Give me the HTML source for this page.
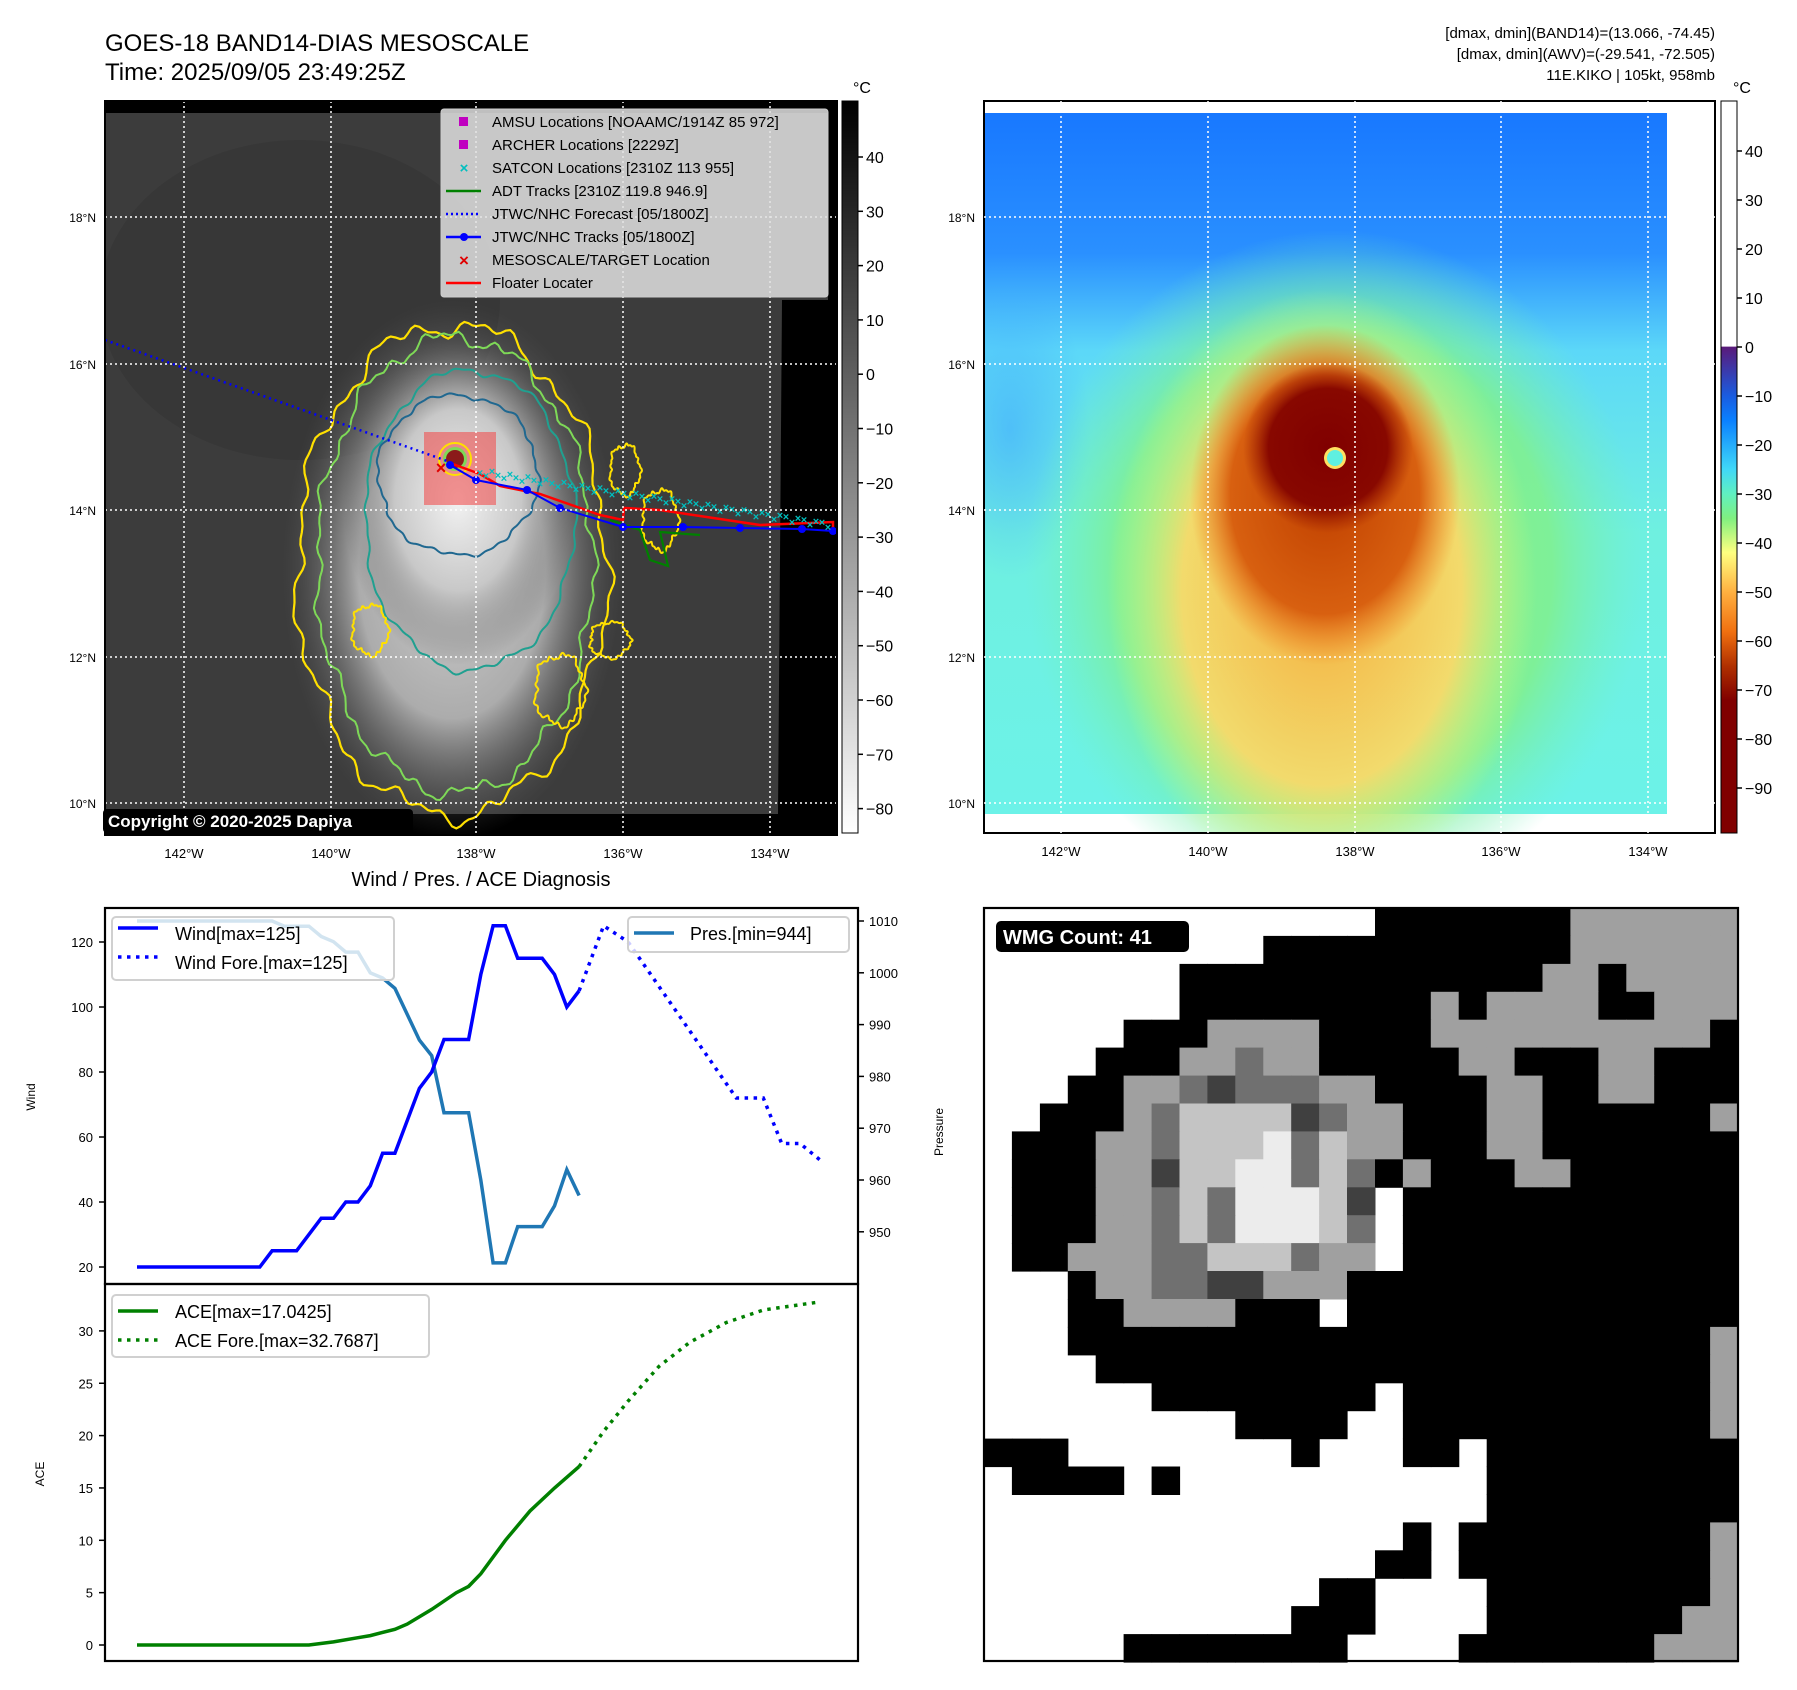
<!DOCTYPE html>
<html><head><meta charset="utf-8"><style>
html,body{margin:0;padding:0;background:#fff}
svg{display:block;font-family:"Liberation Sans",sans-serif}
</style></head><body>
<svg id="fig" width="1797" height="1690" viewBox="0 0 1797 1690" xmlns="http://www.w3.org/2000/svg">
<defs>
<linearGradient id="cb1" x1="0" y1="0" x2="0" y2="1"><stop offset="0" stop-color="#000"/><stop offset="1" stop-color="#fff"/></linearGradient>
<linearGradient id="cb2" x1="0" y1="0" x2="0" y2="1">
<stop offset="0" stop-color="#fff"/><stop offset="0.335" stop-color="#fff"/><stop offset="0.336" stop-color="#5a1a7a"/>
<stop offset="0.403" stop-color="#1a5ce0"/><stop offset="0.436" stop-color="#0a80ff"/><stop offset="0.503" stop-color="#40d8f8"/>
<stop offset="0.537" stop-color="#60f0c0"/><stop offset="0.57" stop-color="#80f080"/><stop offset="0.617" stop-color="#ffff80"/>
<stop offset="0.671" stop-color="#ffb040"/><stop offset="0.725" stop-color="#f07010"/><stop offset="0.772" stop-color="#b03000"/>
<stop offset="0.819" stop-color="#800000"/><stop offset="1" stop-color="#800000"/></linearGradient>
<radialGradient id="stormG"><stop offset="0" stop-color="#f2f2f2"/><stop offset="0.55" stop-color="#c8c8c8"/><stop offset="1" stop-color="#5a5a5a" stop-opacity="0"/></radialGradient>
<linearGradient id="bg2" x1="0" y1="0" x2="0" y2="1"><stop offset="0" stop-color="#1878ff"/><stop offset="0.2" stop-color="#2a90ff"/><stop offset="0.34" stop-color="#5cd8f8"/><stop offset="0.6" stop-color="#6ff0e0"/><stop offset="1" stop-color="#6cf2e8"/></linearGradient>
<radialGradient id="g2green"><stop offset="0" stop-color="#90f070"/><stop offset="0.7" stop-color="#80f090"/><stop offset="1" stop-color="#70f0c0" stop-opacity="0"/></radialGradient>
<radialGradient id="g2yel"><stop offset="0" stop-color="#ffa838"/><stop offset="0.65" stop-color="#ffd868"/><stop offset="1" stop-color="#d0ff80" stop-opacity="0"/></radialGradient>
<radialGradient id="g2or"><stop offset="0" stop-color="#c04000"/><stop offset="0.7" stop-color="#d86010"/><stop offset="1" stop-color="#f08020" stop-opacity="0"/></radialGradient>
<radialGradient id="g2red"><stop offset="0" stop-color="#800000"/><stop offset="0.7" stop-color="#880800"/><stop offset="1" stop-color="#a02000" stop-opacity="0"/></radialGradient>
<radialGradient id="g2blue"><stop offset="0" stop-color="#40a8ff"/><stop offset="1" stop-color="#40a8ff" stop-opacity="0"/></radialGradient>
<clipPath id="clip1"><rect x="105" y="101" width="732" height="734"/></clipPath>
<clipPath id="clip2"><rect x="984" y="101" width="731" height="732"/></clipPath>
</defs>

<text x="105" y="51" font-size="24">GOES-18 BAND14-DIAS MESOSCALE</text>
<text x="105" y="80" font-size="24">Time: 2025/09/05 23:49:25Z</text>
<g font-size="15" text-anchor="end">
<text x="1715" y="38">[dmax, dmin](BAND14)=(13.066, -74.45)</text>
<text x="1715" y="59">[dmax, dmin](AWV)=(-29.541, -72.505)</text>
<text x="1715" y="80">11E.KIKO | 105kt, 958mb</text>
</g>

<g>
<rect x="105" y="101" width="732" height="734" fill="#000"/>
<g clip-path="url(#clip1)" id="map1c">
<polygon points="105,113 828,113 828,300 782,300 778,814 105,814" fill="#3c3c3c"/>
<ellipse cx="300" cy="300" rx="200" ry="160" fill="#333" opacity="0.6"/>
<ellipse cx="452" cy="570" rx="170" ry="270" fill="url(#stormG)" opacity="0.8"/>
<ellipse cx="458" cy="500" rx="115" ry="165" fill="url(#stormG)"/>
<rect x="424" y="432" width="72" height="73" fill="#f05050" opacity="0.6"/>
</g>
</g>

<g>
<rect x="984" y="101" width="731" height="732" fill="#fff"/>
<g clip-path="url(#clip2)">
<rect x="985" y="113" width="682" height="701" fill="url(#bg2)"/>
<ellipse cx="1010" cy="430" rx="80" ry="150" fill="url(#g2blue)" opacity="0.6"/>
<ellipse cx="1335" cy="570" rx="310" ry="340" fill="url(#g2green)" opacity="0.9"/>
<ellipse cx="1322" cy="590" rx="215" ry="300" fill="url(#g2yel)" opacity="0.9"/>
<ellipse cx="1325" cy="495" rx="135" ry="170" fill="url(#g2or)"/>
<ellipse cx="1328" cy="448" rx="85" ry="85" fill="url(#g2red)"/>
<circle cx="1335" cy="458" r="11" fill="#ffe060"/>
<circle cx="1335" cy="458" r="8" fill="#5ff0e0"/>
</g>
<rect x="984" y="101" width="731" height="732" fill="none" stroke="#000" stroke-width="2"/>
</g>

<rect x="842" y="101" width="16" height="732" fill="url(#cb1)" stroke="#000" stroke-width="1"/>
<rect x="1721" y="101" width="16" height="732" fill="url(#cb2)" stroke="#000" stroke-width="1"/>
<text x="853" y="93" font-size="16">°C</text>
<text x="1733" y="93" font-size="16">°C</text>
<g id="cbl" font-size="16"></g>

<text x="481" y="886" font-size="20" text-anchor="middle">Wind / Pres. / ACE Diagnosis</text>

<g id="windax"></g>
<g id="aceax"></g>
<g id="wmg"></g>
</svg>
<script>
// ---------- chart data ----------
const windT=[0,10,11,13,15,16,17,18,19,20,21,23,24,25,27,28,29,30,31,33,34,35,36];
const windV=[20,20,25,25,35,35,40,40,45,55,55,75,80,90,90,110,125,125,115,115,110,100,105];
const windFT=[36,38,40,48.8,51,52.5,54,55.6];
const windFV=[105,125,120,72,72,58,58,53];
const presT=[0,11,12,14,15,16,17,18,19,20,21,23,24,25,27,28,29,30,31,33,34,35,36];
const presV=[1010,1010,1009,1009,1007,1006,1004,1004,1000,999,997,987,984,973,973,960,944,944,951,951,955,962,957];
const aceT=[0,14,16,18,19,21,22,24,26,27,28,30,32,34,36];
const aceV=[0,0,0.3,0.7,0.9,1.5,2.0,3.4,5.0,5.6,6.8,10,12.8,15,17.04];
const aceFT=[36,38,40,42.5,45,48,51,55.6];
const aceFV=[17.04,20.4,23.3,26.6,28.9,30.8,32,32.77];
const windTicks=[20,40,60,80,100,120];
const presTicks=[950,960,970,980,990,1000,1010];
const aceTicks=[0,5,10,15,20,25,30];
const ir_ticks=[40,30,20,10,0,-10,-20,-30,-40,-50,-60,-70,-80];
const awv_ticks=[40,30,20,10,0,-10,-20,-30,-40,-50,-60,-70,-80,-90];
const lonLabels=["142°W","140°W","138°W","136°W","134°W"];
const latLabels=["18°N","16°N","14°N","12°N","10°N"];

const NS="http://www.w3.org/2000/svg";
function mk(tag,attrs,parent){const e=document.createElementNS(NS,tag);for(const k in attrs)e.setAttribute(k,attrs[k]);if(parent)parent.appendChild(e);return e;}
const fig=document.getElementById('fig');
const X=i=>137+i*12.28;
const yW=v=>1267-(v-20)*3.25;
const yP=p=>921+(1010-p)*5.18;
const yA=a=>1645-a*10.47;
const fmt=v=>(v<0?"\u2212"+(-v):""+v);

const cbl=document.getElementById('cbl');
ir_ticks.forEach(v=>{const y=157+(40-v)*5.43;
 mk('line',{x1:858,y1:y,x2:863,y2:y,stroke:'#000','stroke-width':1.5},cbl);
 const t=mk('text',{x:866,y:y+6},cbl);t.textContent=fmt(v);
 
 });
awv_ticks.forEach(v=>{const y=151+(40-v)*4.9;
 mk('line',{x1:1737,y1:y,x2:1742,y2:y,stroke:'#000','stroke-width':1.5},cbl);
 const t=mk('text',{x:1745,y:y+6},cbl);t.textContent=fmt(v);
 
 });

function grid(left,right,top,bottom,lonX,latY){
 const g=mk('g',{},fig);
 lonX.forEach((x,i)=>{mk('line',{x1:x,y1:top,x2:x,y2:bottom,stroke:'#fff','stroke-width':1.5,'stroke-dasharray':'2 3'},g);
  const t=mk('text',{x:x,y:bottom+23,'font-size':13,'text-anchor':'middle'},g);t.textContent=lonLabels[i];
  
  });
 latY.forEach((y,i)=>{mk('line',{x1:left,y1:y,x2:right,y2:y,stroke:'#fff','stroke-width':1.5,'stroke-dasharray':'2 3'},g);
  const t=mk('text',{x:left-9,y:y+5,'font-size':12,'text-anchor':'end'},g);t.textContent=latLabels[i];
  
  });
 return g;
}

const m1=document.getElementById('map1c');
function blob(cx,cy,rx,ry,k,phase,amp){let d="";for(let j=0;j<=240;j++){const th=j/240*2*Math.PI;
 const r=1+amp*(Math.sin(k*th+phase)*0.5+Math.sin((k*2+3)*th+phase*2)*0.3+Math.sin((k*4+5)*th+phase)*0.2);
 d+=(j?"L":"M")+(cx+rx*r*Math.cos(th)).toFixed(1)+","+(cy+ry*r*Math.sin(th)).toFixed(1);}return d+"Z";}
mk('path',{d:blob(452,570,155,245,9,0.5,0.06),fill:'none',stroke:'#ffe000','stroke-width':2.2},m1);
mk('path',{d:blob(455,565,138,228,11,1.3,0.05),fill:'none',stroke:'#7ed957','stroke-width':2},m1);
mk('path',{d:blob(470,520,105,150,7,2.0,0.04),fill:'none',stroke:'#20a090','stroke-width':2},m1);
mk('path',{d:blob(458,475,80,80,6,0.2,0.05),fill:'none',stroke:'#206890','stroke-width':2},m1);
[[625,470,15,25],[560,690,25,35],[610,640,20,18],[370,630,18,25],[660,520,18,30]].forEach(a=>mk('path',{d:blob(a[0],a[1],a[2],a[3],5,1,0.15),fill:'none',stroke:'#ffe000','stroke-width':2},m1));
mk('circle',{cx:455,cy:459,r:16,fill:'none',stroke:'#ffe000','stroke-width':2},m1);
mk('circle',{cx:455,cy:459,r:12,fill:'#7ed957'},m1);
mk('circle',{cx:455,cy:459,r:9,fill:'#8b1a1a'},m1);
mk('polyline',{points:'105,340 450,462',fill:'none',stroke:'#0000ff','stroke-width':2.5,'stroke-dasharray':'2 4'},m1);
mk('polyline',{points:'610,520 640,530 650,560 668,566 660,532 700,535',fill:'none',stroke:'#008000','stroke-width':2.2},m1);
mk('polyline',{points:'450,463 480,474 500,486 540,494 600,515 623,520 624,508 660,510 700,516 760,525 810,523 833,522 833,533',fill:'none',stroke:'#ff0000','stroke-width':2.5},m1);
const trk=[[450,465],[476,480],[527,490],[560,508],[623,527],[683,527],[740,528],[802,529],[833,531]];
mk('polyline',{points:trk.map(p=>p.join(',')).join(' '),fill:'none',stroke:'#0000ff','stroke-width':2},m1);
trk.forEach(p=>mk('circle',{cx:p[0],cy:p[1],r:4,fill:'#0000ff'},m1));
for(let x=480;x<833;x+=6){const y=472+(x-480)*0.15+Math.sin(x*0.7)*3;
 mk('text',{x:x,y:y+4,'font-size':11,fill:'#00bfbf','text-anchor':'middle','font-weight':'bold'},m1).textContent='×';}
mk('text',{x:441,y:474,'font-size':18,fill:'#e00000','text-anchor':'middle','font-weight':'bold'},m1).textContent='×';
grid(105,837,101,835,[184,331,476,623,770],[217,364,510,657,803]);
mk('rect',{x:105,y:101,width:732,height:734,fill:'none',stroke:'#000','stroke-width':2},fig);
const lg=mk('g',{},fig);


mk('rect',{x:441,y:109,width:387,height:188,rx:3,fill:'#e0e0e0','fill-opacity':0.85,stroke:'#ccc'},lg);
const labs=["AMSU Locations [NOAAMC/1914Z 85 972]","ARCHER Locations [2229Z]","SATCON Locations [2310Z 113 955]","ADT Tracks [2310Z 119.8 946.9]","JTWC/NHC Forecast [05/1800Z]","JTWC/NHC Tracks [05/1800Z]","MESOSCALE/TARGET Location","Floater Locater"];
labs.forEach((s,i)=>{const y=122+i*23;const t=mk('text',{x:492,y:y+5,'font-size':15},lg);t.textContent=s;
 
 
 if(i<2)mk('rect',{x:459,y:y-5,width:9,height:9,fill:'#c000c0'},lg);
 if(i==2)mk('text',{x:464,y:y+5,'font-size':15,fill:'#00bfbf','text-anchor':'middle','font-weight':'bold'},lg).textContent='×';
 if(i==3)mk('line',{x1:446,y1:y,x2:481,y2:y,stroke:'#008000','stroke-width':2.5},lg);
 if(i==4)mk('line',{x1:446,y1:y,x2:481,y2:y,stroke:'#0000ff','stroke-width':2.5,'stroke-dasharray':'2 3'},lg);
 if(i==5){mk('line',{x1:446,y1:y,x2:481,y2:y,stroke:'#0000ff','stroke-width':2.5},lg);mk('circle',{cx:464,cy:y,r:4,fill:'#0000ff'},lg);}
 if(i==6)mk('text',{x:464,y:y+6,'font-size':17,fill:'#e00000','text-anchor':'middle','font-weight':'bold'},lg).textContent='×';
 if(i==7)mk('line',{x1:446,y1:y,x2:481,y2:y,stroke:'#ff0000','stroke-width':2.5},lg);});
const cp=mk('g',{},fig);


mk('rect',{x:103,y:809,width:310,height:24,rx:4,fill:'#000'},cp);
mk('text',{x:108,y:827,'font-size':17,'font-weight':'bold',fill:'#fff'},cp).textContent='Copyright © 2020-2025 Dapiya';
grid(984,1715,101,833,[1061,1208,1355,1501,1648],[217,364,510,657,803]);

const wa=document.getElementById('windax');
mk('rect',{x:105,y:908,width:753,height:376,fill:'#fff'},wa);
const pts=(T,V,f)=>T.map((t,i)=>X(t).toFixed(1)+","+f(V[i]).toFixed(1)).join(' ');
const pl=mk('polyline',{points:pts(presT,presV,yP),fill:'none',stroke:'#1f77b4','stroke-width':3.5},wa);


const wl=mk('polyline',{points:pts(windT,windV,yW),fill:'none',stroke:'#0000ff','stroke-width':3.5},wa);


const wf=mk('polyline',{points:pts(windFT,windFV,yW),fill:'none',stroke:'#0000ff','stroke-width':3.5,'stroke-dasharray':'3.5 5.5'},wa);


windTicks.forEach(v=>{const y=yW(v);mk('line',{x1:99,y1:y,x2:105,y2:y,stroke:'#000','stroke-width':1.5},wa);
 const t=mk('text',{x:93,y:y+5,'font-size':13,'text-anchor':'end'},wa);t.textContent=v;
 
 });
presTicks.forEach(v=>{const y=yP(v);mk('line',{x1:858,y1:y,x2:864,y2:y,stroke:'#000','stroke-width':1.5},wa);
 const t=mk('text',{x:869,y:y+5,'font-size':13},wa);t.textContent=v;
 
 });
mk('text',{x:0,y:0,'font-size':12,transform:'translate(35,1097) rotate(-90)','text-anchor':'middle'},wa).textContent='Wind';
mk('text',{x:0,y:0,'font-size':12,transform:'translate(943,1132) rotate(-90)','text-anchor':'middle'},wa).textContent='Pressure';
const wlg=mk('g',{},wa);


mk('rect',{x:112,y:917,width:282,height:63,rx:4,fill:'#fff','fill-opacity':0.8,stroke:'#d0d0d0','stroke-width':2},wlg);
mk('line',{x1:118,y1:928,x2:158,y2:928,stroke:'#0000ff','stroke-width':3.5},wlg);
mk('line',{x1:118,y1:957,x2:158,y2:957,stroke:'#0000ff','stroke-width':3.5,'stroke-dasharray':'3.5 5.5'},wlg);
mk('text',{x:175,y:940,'font-size':18},wlg).textContent='Wind[max=125]';
mk('text',{x:175,y:969,'font-size':18},wlg).textContent='Wind Fore.[max=125]';
const plg=mk('g',{},wa);


mk('rect',{x:628,y:917,width:221,height:35,rx:4,fill:'#fff','fill-opacity':0.8,stroke:'#d0d0d0','stroke-width':2},plg);
mk('line',{x1:634,y1:933,x2:674,y2:933,stroke:'#1f77b4','stroke-width':3.5},plg);
mk('text',{x:690,y:940,'font-size':18},plg).textContent='Pres.[min=944]';
mk('rect',{x:105,y:908,width:753,height:376,fill:'none',stroke:'#000','stroke-width':2.2},wa);

const aa=document.getElementById('aceax');
const al=mk('polyline',{points:pts(aceT,aceV,yA),fill:'none',stroke:'#008000','stroke-width':3.5},aa);


const af=mk('polyline',{points:pts(aceFT,aceFV,yA),fill:'none',stroke:'#008000','stroke-width':3.5,'stroke-dasharray':'3.5 5.5'},aa);


aceTicks.forEach(v=>{const y=yA(v);mk('line',{x1:99,y1:y,x2:105,y2:y,stroke:'#000','stroke-width':1.5},aa);
 const t=mk('text',{x:93,y:y+5,'font-size':13,'text-anchor':'end'},aa);t.textContent=v;
 
 });
mk('text',{x:0,y:0,'font-size':12,transform:'translate(44,1474) rotate(-90)','text-anchor':'middle'},aa).textContent='ACE';
const alg=mk('g',{},aa);


mk('rect',{x:112,y:1295,width:317,height:62,rx:4,fill:'#fff','fill-opacity':0.8,stroke:'#d0d0d0','stroke-width':2},alg);
mk('line',{x1:118,y1:1311,x2:158,y2:1311,stroke:'#008000','stroke-width':3.5},alg);
mk('line',{x1:118,y1:1340,x2:158,y2:1340,stroke:'#008000','stroke-width':3.5,'stroke-dasharray':'3.5 5.5'},alg);
mk('text',{x:175,y:1318,'font-size':18},alg).textContent='ACE[max=17.0425]';
mk('text',{x:175,y:1347,'font-size':18},alg).textContent='ACE Fore.[max=32.7687]';
mk('rect',{x:105,y:1284,width:753,height:377,fill:'none',stroke:'#000','stroke-width':2.2},aa);

const wmgRows=[
"..............#######gggggg",
"..........###########gggggg",
".......#############gg#gggg",
".......#########g#gggg##ggg",
".....###gggg####gggggggggg#",
"....###ggdgg#####gg###gg###",
"...##ggdkdddgg####gg##gg###",
"..###gdllllkdgg###gg######g",
".###ggdlllwdlgg###gg#######",
".###ggkllwwdld#g###gg######",
".###ggdldwwwlk.############",
".###ggdldwwwld.############",
".##gggddllldgg.############",
"...#ggddkkggg##############",
"...##gggg###.##############",
"...#######################g",
"....######################g",
"......########.###########g",
".........####..###########g",
"###........#...##.#########",
".####.#...........#########",
"..................#########",
"...............#.#########g",
"..............##.#########g",
"............##....########g",
"...........###....#######gg",
".....########....#######ggg"];
const wg=document.getElementById('wmg');
mk('rect',{x:984,y:908,width:754,height:753,fill:'#fff'},wg);
const cs=754/27;
const col={'.':'#fff','#':'#000','g':'#a0a0a0','d':'#707070','k':'#404040','l':'#c4c4c4','w':'#ececec'};
wmgRows.forEach((row,r)=>{for(let c=0;c<27;c++){const ch=row[c]||'#';if(ch==='.')continue;
 mk('rect',{x:(984+c*cs).toFixed(1),y:(908+r*cs).toFixed(1),width:(cs+0.6).toFixed(1),height:(cs+0.6).toFixed(1),fill:col[ch]},wg);}});
mk('rect',{x:984,y:908,width:754,height:753,fill:'none',stroke:'#000','stroke-width':2.2},wg);
const wl2=mk('g',{},wg);


mk('rect',{x:996,y:921,width:193,height:31,rx:5,fill:'#000'},wl2);
mk('text',{x:1003,y:944,'font-size':20,'font-weight':'bold',fill:'#fff'},wl2).textContent='WMG Count: 41';
</script>
</body></html>
